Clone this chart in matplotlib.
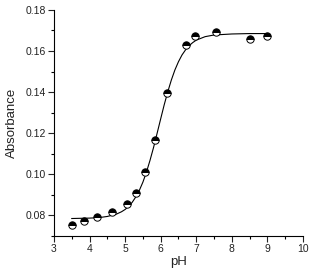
import numpy as np
import matplotlib.pyplot as plt
from matplotlib.ticker import FixedLocator, MultipleLocator

plt.rcParams['font.family'] = ['Liberation Sans', 'DejaVu Sans']

# measured points
ph = [3.50, 3.85, 4.22, 4.62, 5.04, 5.31, 5.56, 5.85, 6.19, 6.70, 6.96, 7.55, 8.52, 8.98]
absorb = [0.0754, 0.0775, 0.0794, 0.0817, 0.0856, 0.0911, 0.1010, 0.1166, 0.1396,
          0.1631, 0.1675, 0.1691, 0.1660, 0.1673]

# fitted curve
fit_ph = [3.5, 4.0, 4.25, 4.5, 4.75, 4.9, 5.0, 5.1, 5.2, 5.3, 5.4, 5.5, 5.6, 5.7, 5.8,
          5.9, 6.0, 6.1, 6.2, 6.3, 6.4, 6.5, 6.6, 6.7, 6.8, 6.9, 7.0, 7.25, 7.5, 8.0,
          8.5, 9.0]
fit_abs = [0.0785, 0.0787, 0.0789, 0.0795, 0.0806, 0.0818, 0.0829, 0.0844, 0.0864,
           0.0890, 0.0922, 0.0962, 0.1011, 0.1068, 0.1131, 0.1200, 0.1270, 0.1339,
           0.1402, 0.1459, 0.1508, 0.1548, 0.1581, 0.1606, 0.1626, 0.1641, 0.1653,
           0.1670, 0.1678, 0.1683, 0.1685, 0.1685]

fig = plt.figure(figsize=(3.12, 2.76), dpi=100)
ax = fig.add_axes([0.173, 0.145, 0.798, 0.819])

ax.plot(fit_ph, fit_abs, color="black", linewidth=0.8, zorder=2)
ax.plot(ph, absorb, linestyle="none", marker="o", markersize=5.3,
        fillstyle="top", markerfacecolor="black", markerfacecoloralt="white",
        markeredgecolor="black", markeredgewidth=0.7, zorder=3)

ax.set_xlim(3, 10)
ax.set_ylim(0.07, 0.18)
ax.xaxis.set_major_locator(MultipleLocator(1))
ax.xaxis.set_minor_locator(MultipleLocator(0.5))
ax.yaxis.set_major_locator(FixedLocator([0.08, 0.10, 0.12, 0.14, 0.16, 0.18]))
ax.yaxis.set_minor_locator(FixedLocator([0.07, 0.09, 0.11, 0.13, 0.15, 0.17]))
ax.yaxis.set_major_formatter(plt.FuncFormatter(lambda v, p: "%.2f" % v))

for s in ["top", "right"]:
    ax.spines[s].set_visible(False)
for s in ["left", "bottom"]:
    ax.spines[s].set_linewidth(0.8)

ax.tick_params(which="major", direction="out", length=4, width=0.8, labelsize=7.5,
               pad=2, colors="#222222")
ax.tick_params(which="minor", direction="out", length=2.5, width=0.8)

ax.set_xlabel("pH", fontsize=9.5, labelpad=1, color="#222222")
ax.set_ylabel("Absorbance", fontsize=9.5, labelpad=5, color="#222222")

fig.savefig("out.png", dpi=100)
